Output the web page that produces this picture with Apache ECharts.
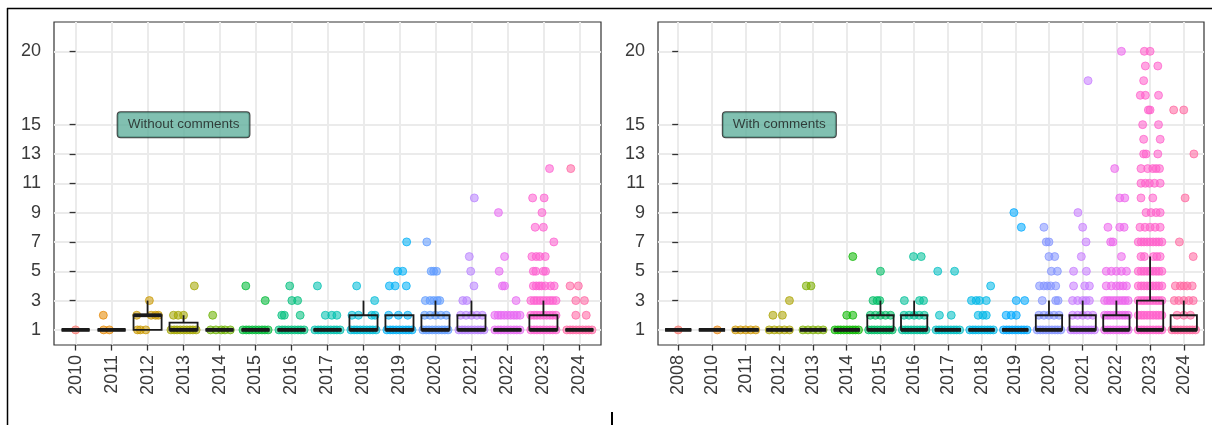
<!DOCTYPE html>
<html>
<head>
<meta charset="utf-8">
<script src="https://cdn.jsdelivr.net/npm/echarts@6/dist/echarts.min.js"></script>
<style>
  html, body { margin: 0; padding: 0; background: #fff; }
  #main { width: 1212px; height: 425px; }
</style>
</head>
<body>
<div id="main"></div>
<script>
// years on each panel
const yearsWithout = ['2010','2011','2012','2013','2014','2015','2016','2017','2018','2019','2020','2021','2022','2023','2024'];
const yearsWith = ['2008','2010','2011','2012','2013','2014','2015','2016','2017','2018','2019','2020','2021','2022','2023','2024'];

// ggplot hue palettes (15 and 16 levels)
const colorsWithout = ['#F8766D','#E58700','#C99800','#A3A500','#6BB100','#00BA38','#00BF7D','#00C0AF','#00BCD8','#00B0F6','#619CFF','#B983FF','#E76BF3','#FD61D1','#FF67A4'];
const colorsWith = ['#F8766D','#E68613','#CD9600','#ABA300','#7CAE00','#0CB702','#00BE67','#00C19A','#00BFC4','#00B8E7','#00A9FF','#8494FF','#C77CFF','#ED68ED','#FF61CC','#FF68A1'];

// box stats: [min, Q1, median, Q3, max]
const boxWithout = [
  [1,1,1,1,1], [1,1,1,1,1], [1,1,2,2,3], [1,1,1,1.5,2], [1,1,1,1,1],
  [1,1,1,1,1], [1,1,1,1,1], [1,1,1,1,1], [1,1,1,2,3], [1,1,1,2,2],
  [1,1,1,2,3], [1,1,1,2,3], [1,1,1,1,1], [1,1,1,2,3], [1,1,1,1,1]
];
const boxWith = [
  [1,1,1,1,1], [1,1,1,1,1], [1,1,1,1,1], [1,1,1,1,1], [1,1,1,1,1],
  [1,1,1,1,1], [1,1,1,2,3], [1,1,1,2,3], [1,1,1,1,1], [1,1,1,1,1],
  [1,1,1,1,1], [1,1,1,2,3], [1,1,1,2,3], [1,1,1,2,3], [1,1,1,3,6], [1,1,1,2,3]
];

// jittered points, per year: [value, [x offsets]]
const fullRow = [-0.35,-0.26,-0.18,-0.09,0,0.09,0.18,0.26,0.35];
const halfRow = [-0.3,-0.15,0,0.15,0.3];

const pointsWithout = [
  [[1,[0]]],
  [[2,[-0.23]], [1,[-0.22,-0.06]]],
  [[3,[0.05]], [2,[-0.3,0.1,0.22,0.3]], [1,[-0.28,-0.2,-0.05]]],
  [[4,[0.3]], [2,[-0.28,-0.15,0]], [1,fullRow]],
  [[2,[-0.19]], [1,[-0.25,-0.1,0.05,0.15,0.3]]],
  [[4,[-0.27]], [3,[0.27]], [1,fullRow]],
  [[4,[-0.05]], [3,[0.01,0.17]], [2,[-0.27,-0.2,0.24]], [1,fullRow]],
  [[4,[-0.28]], [2,[-0.06,0.12,0.26]], [1,fullRow]],
  [[4,[-0.19]], [3,[0.31]], [2,[-0.32,-0.14,0.23,0.32]], [1,fullRow]],
  [[7,[0.2]], [5,[-0.05,0.09]], [4,[-0.28,-0.12,0.19]], [2,[-0.3,-0.03,0.23]], [1,fullRow]],
  [[7,[-0.24]], [5,[-0.12,-0.05,0.03]], [3,[-0.28,-0.15,-0.05,0.05,0.12]], [2,halfRow], [1,fullRow]],
  [[10,[0.08]], [6,[-0.06]], [5,[-0.02]], [4,[0.07]], [3,[-0.24,-0.13]], [2,halfRow], [1,fullRow]],
  [[9,[-0.25]], [6,[-0.08]], [5,[-0.23]], [4,[-0.14,-0.08]], [3,[0.24]], [2,fullRow], [1,fullRow]],
  [[12,[0.17]], [10,[-0.3,0.02]], [9,[-0.04]], [8,[-0.23,0]], [7,[0.29]],
   [6,[-0.32,-0.2,-0.1,0.05]], [5,[-0.28,-0.21,0,0.06]], [4,[-0.28,-0.2,-0.12,-0.05,0.05,0.2,0.3]],
   [3,fullRow], [2,fullRow], [1,fullRow]],
  [[12,[-0.24]], [4,[-0.26,-0.03]], [3,[-0.1,0.14]], [2,[-0.1,0.19]], [1,fullRow]]
];

const pointsWith = [
  [[1,[0]]],
  [[1,[0.16]]],
  [[1,halfRow]],
  [[3,[0.3]], [2,[-0.19,0.09]], [1,halfRow]],
  [[4,[-0.2,-0.06]], [1,halfRow]],
  [[6,[0.18]], [2,[0,0.18]], [1,fullRow]],
  [[5,[0]], [3,[-0.22,-0.1,-0.02]], [2,halfRow], [1,fullRow]],
  [[6,[-0.02,0.21]], [3,[-0.29,0.16,0.28]], [2,halfRow], [1,fullRow]],
  [[5,[-0.3,0.2]], [2,[-0.25,0.1]], [1,fullRow]],
  [[4,[0.27]], [3,[-0.3,-0.16,-0.06,0.14]], [2,[-0.1,0.04,0.14]], [1,fullRow]],
  [[9,[-0.04]], [8,[0.18]], [3,[0.03,0.28]], [2,[-0.27,-0.12,0.03]], [1,fullRow]],
  [[8,[-0.15]], [7,[-0.08,0]], [6,[0,0.17]], [5,[0.07,0.25]], [4,[-0.28,-0.15,-0.05,0.05,0.2]],
   [3,[-0.2,0.2,0.27]], [2,halfRow], [1,fullRow]],
  [[18,[0.16]], [9,[-0.14]], [8,[0]], [7,[0.1]], [6,[-0.04]], [5,[-0.27,0.11]], [4,[-0.27,0.06,0.2]],
   [3,[-0.3,-0.15,0,0.1,0.2]], [2,halfRow], [1,fullRow]],
  [[20,[0.15]], [12,[-0.05]], [10,[0.1,0.25]], [8,[-0.25,0.1,0.23]], [7,[-0.17,-0.1]], [6,[0.15]],
   [5,halfRow], [4,[-0.3,-0.15,0,0.1,0.2,0.3]], [3,fullRow], [2,fullRow], [1,fullRow]],
  [[20,[-0.17,0]], [19,[-0.14,0.23]], [18,[-0.19]], [17,[-0.29,-0.14,0.25]], [16,[-0.05,0]],
   [15,[-0.22,0.25]], [14,[-0.19,0.3]], [13,[-0.19,-0.12,0.23]], [12,[-0.27,-0.07,0.08,0.18,0.28]],
   [11,[-0.27,-0.14,-0.02,0.13,0.3]], [10,[-0.27,0.08]], [9,[-0.12,0.03,0.18,0.3]],
   [8,[-0.3,-0.15,0,0.15,0.3]], [7,fullRow], [6,[-0.27,-0.17,0.1,0.2,0.3]], [5,fullRow],
   [4,fullRow], [3,fullRow], [2,fullRow], [1,fullRow]],
  [[16,[-0.3,0]], [13,[0.3]], [10,[0.04]], [7,[-0.13]], [6,[0.28]], [4,[-0.25,-0.1,0,0.1,0.25]],
   [3,[-0.28,-0.15,0,0.15,0.28]], [2,[-0.2,0,0.2]], [1,fullRow]]
];

const yTicks = [1,3,5,7,9,11,13,15,20];
const labelPos = [3, 15];

function rgba(hex, a) {
  const n = parseInt(hex.slice(1), 16);
  return 'rgba(' + (n >> 16) + ',' + ((n >> 8) & 255) + ',' + (n & 255) + ',' + a + ')';
}

function buildPoints(rowsList, colors) {
  const out = [];
  rowsList.forEach(function (rows, i) {
    rows.forEach(function (row) {
      row[1].forEach(function (dx) {
        out.push({
          value: [i + dx, row[0]],
          itemStyle: { color: rgba(colors[i], 0.7), borderColor: rgba(colors[i], 0.9), borderWidth: 1 }
        });
      });
    });
  });
  return out;
}

function renderBox(params, api) {
  const x = api.value(0);
  const pMin = api.coord([x, api.value(1)]);
  const pQ1 = api.coord([x, api.value(2)]);
  const pMed = api.coord([x, api.value(3)]);
  const pQ3 = api.coord([x, api.value(4)]);
  const pMax = api.coord([x, api.value(5)]);
  const half = api.size([0.78, 0])[0] / 2;
  const stroke = { stroke: '#1a1a1a', lineWidth: 1.8, fill: null };
  return {
    type: 'group',
    children: [
      { type: 'line', shape: { x1: pQ3[0], y1: pQ3[1], x2: pMax[0], y2: pMax[1] }, style: stroke },
      { type: 'line', shape: { x1: pQ1[0], y1: pQ1[1], x2: pMin[0], y2: pMin[1] }, style: stroke },
      { type: 'rect', shape: { x: pQ3[0] - half, y: pQ3[1], width: half * 2, height: pQ1[1] - pQ3[1] },
        style: { stroke: '#1a1a1a', lineWidth: 1.8, fill: 'rgba(0,0,0,0)' } },
      { type: 'line', shape: { x1: pMed[0] - half, y1: pMed[1], x2: pMed[0] + half, y2: pMed[1] },
        style: { stroke: '#1a1a1a', lineWidth: 3.8 } }
    ]
  };
}

const font = "'Liberation Sans', Arial, sans-serif";
const idxWithout = yearsWithout.map(function (y, i) { return i; });
const idxWith = yearsWith.map(function (y, i) { return i; });

function xAxisFor(gridIndex, years, idx) {
  return {
    type: 'value', gridIndex: gridIndex,
    min: -0.6, max: years.length - 0.4,
    axisLine: { show: false },
    axisTick: { show: true, length: 6, customValues: idx, lineStyle: { color: '#333', width: 1.3 } },
    axisLabel: {
      customValues: idx, rotate: 90, margin: 10,
      fontFamily: font, fontSize: 18, color: '#3a3a3a',
      formatter: function (v) { return years[Math.round(v)]; }
    },
    splitLine: { show: true, lineStyle: { color: '#ebebeb', width: 2 } }
  };
}

function yAxisFor(gridIndex) {
  return {
    type: 'value', gridIndex: gridIndex,
    min: -0.03, max: 22,
    axisLine: { show: false },
    axisTick: { show: true, length: 6, customValues: yTicks, lineStyle: { color: '#333', width: 1.3 } },
    axisLabel: { customValues: yTicks, margin: 13, fontFamily: font, fontSize: 18, color: '#3a3a3a' },
    splitLine: { show: true, lineStyle: { color: '#ebebeb', width: 2 } }
  };
}

function labelSeries(axisIndex, text) {
  return {
    type: 'scatter', xAxisIndex: axisIndex, yAxisIndex: axisIndex,
    data: [labelPos], symbolSize: 1, itemStyle: { color: 'rgba(0,0,0,0)' }, silent: true, z: 10,
    label: {
      show: true, position: 'inside', formatter: text,
      fontFamily: font, fontSize: 13.5, color: '#1a1a1a',
      backgroundColor: '#62b09d', borderColor: '#111', borderWidth: 1, borderRadius: 3,
      padding: [6, 10, 5, 10]
    }
  };
}

const chart = echarts.init(document.getElementById('main'));
chart.setOption({
  animation: false,
  backgroundColor: '#fff',
  grid: [
    { left: 54, right: 611, top: 22, bottom: 80, show: true, borderColor: '#333', borderWidth: 1.2, backgroundColor: 'transparent' },
    { left: 658, right: 8, top: 22, bottom: 80, show: true, borderColor: '#333', borderWidth: 1.2, backgroundColor: 'transparent' }
  ],
  xAxis: [xAxisFor(0, yearsWithout, idxWithout), xAxisFor(1, yearsWith, idxWith)],
  yAxis: [yAxisFor(0), yAxisFor(1)],
  graphic: [
    { type: 'line', shape: { x1: 7, y1: 8.5, x2: 1212, y2: 8.5 }, style: { stroke: '#000', lineWidth: 1.5 } },
    { type: 'line', shape: { x1: 7.5, y1: 8, x2: 7.5, y2: 425 }, style: { stroke: '#000', lineWidth: 1.5 } },
    { type: 'line', shape: { x1: 612, y1: 412, x2: 612, y2: 425 }, style: { stroke: '#000', lineWidth: 2 } }
  ],
  series: [
    { type: 'scatter', xAxisIndex: 0, yAxisIndex: 0, symbolSize: 8, data: buildPoints(pointsWithout, colorsWithout), z: 2 },
    { type: 'scatter', xAxisIndex: 1, yAxisIndex: 1, symbolSize: 8, data: buildPoints(pointsWith, colorsWith), z: 2 },
    { type: 'custom', xAxisIndex: 0, yAxisIndex: 0, renderItem: renderBox, z: 3,
      encode: { x: 0, y: [1, 2, 3, 4, 5] },
      data: boxWithout.map(function (b, i) { return [i].concat(b); }) },
    { type: 'custom', xAxisIndex: 1, yAxisIndex: 1, renderItem: renderBox, z: 3,
      encode: { x: 0, y: [1, 2, 3, 4, 5] },
      data: boxWith.map(function (b, i) { return [i].concat(b); }) },
    labelSeries(0, 'Without comments'),
    labelSeries(1, 'With comments')
  ]
});
</script>
</body>
</html>
